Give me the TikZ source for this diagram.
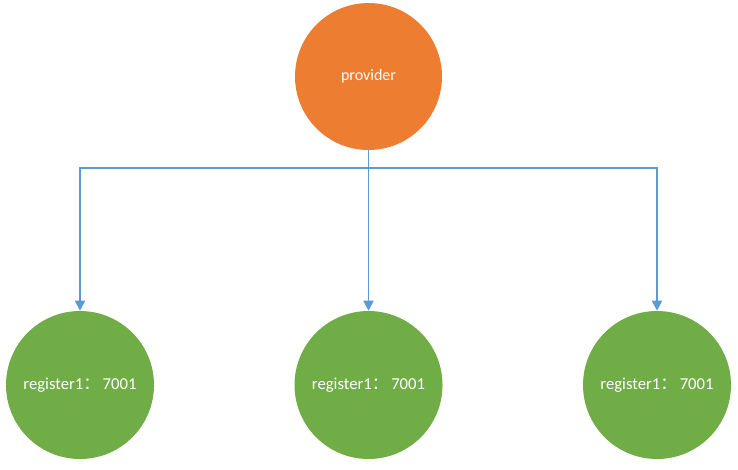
\documentclass[tikz,border=0pt]{standalone}
\usepackage{fontspec}
\setmainfont{Carlito}
\newfontfamily\cjk{Noto Sans CJK SC}
\usetikzlibrary{arrows.meta}

\definecolor{provorange}{HTML}{ED7D31}
\definecolor{reggreen}{HTML}{70AD47}
\definecolor{linkblue}{HTML}{5B9BD5}

\begin{document}
\begin{tikzpicture}[x=0.75pt, y=-0.75pt,
    prov/.style={circle, fill=provorange, minimum size=110.25pt, inner sep=0pt, text=white, font=\fontsize{12}{14}\selectfont},
    reg/.style={circle, fill=reggreen, minimum size=111pt, inner sep=0pt, text=white, font=\fontsize{12.5}{14}\selectfont},
    link/.style={draw=linkblue, line width=1.3pt, -{Triangle[length=7.5pt, width=7.5pt]}}]
    \useasboundingbox (0,0) rectangle (738,469);

    % Circles
    \def\ytop{76.5}
    \def\ybot{385}
    \node[prov] (provider) at (368.5,\ytop) {provider};
    \node[reg] (reg1) at (80,\ybot) {register1{\cjk ：}\,7001};
    \node[reg] (reg2) at (368.5,\ybot) {register1{\cjk ：}\,7001};
    \node[reg] (reg3) at (657,\ybot) {register1{\cjk ：}\,7001};

    % Connectors
    \coordinate (split) at (368.5,168);
    \draw[link] (provider.south) -- (split) -| (reg1.north);
    \draw[link] (provider.south) -- (reg2.north);
    \draw[link] (provider.south) -- (split) -| (reg3.north);

\end{tikzpicture}
\end{document}
